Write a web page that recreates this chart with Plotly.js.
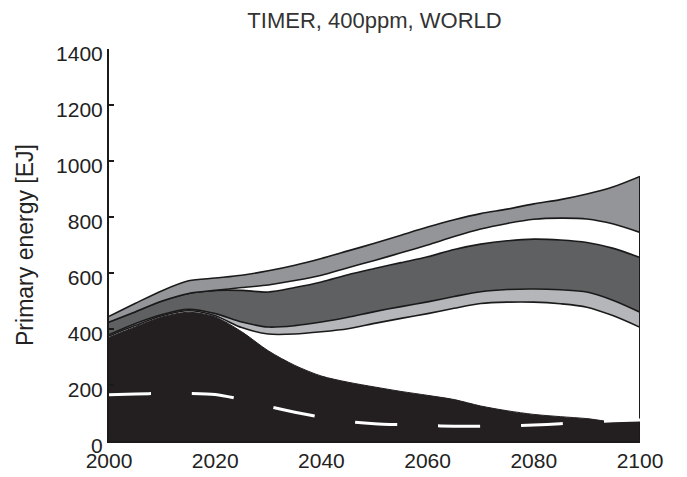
<!DOCTYPE html>
<html>
<head>
<meta charset="utf-8">
<script src="https://cdn.plot.ly/plotly-3.0.1.min.js"></script>
<style>html,body{margin:0;padding:0;background:#fff;}#chart{width:687px;height:477px;}</style>
</head>
<body>
<div id="chart"></div>
<script>
const years = [2000,2005,2010,2015,2020,2025,2030,2035,2040,2045,2050,2055,2060,2065,2070,2075,2080,2085,2090,2095,2100];
// Black area (top)
const blackTop = [370,408,443,460,443,390,322,270,232,210,193,177,163,148,125,108,95,87,80,68,72];
// White dashed line
const dashed = [165,168,170,170,166,148,124,103,85,70,62,58,55,53,53,54,57,62,68,72,75];
// Light band bottom
const lightLow = [375,413,447,465,447,405,382,382,390,401,420,438,455,474,491,496,496,490,478,447,406];
// Dark band bottom (= light band top)
const darkLow = [380,420,452,470,455,425,407,412,425,442,462,480,497,516,533,541,543,540,532,502,460];
// Dark band top
const darkHigh = [425,462,500,527,538,538,532,548,568,594,616,637,658,684,703,715,721,718,709,688,655];
// Upper band bottom
const upperLow = [425,462,500,527,538,548,557,573,592,619,645,672,700,730,757,777,792,796,793,775,745];
// Upper band top
const upperHigh = [445,492,537,572,582,592,608,628,652,679,706,735,764,790,812,828,847,862,882,908,945];

const yTicks = [0,200,400,600,800,1000,1200,1400];
const xTicks = [2000,2020,2040,2060,2080,2100];

const edge = {color:'#1a1a1a', width:1.6, shape:'spline', smoothing:0.8};
const traces = [
  {x:years, y:blackTop, mode:'lines', fill:'tozeroy', fillcolor:'#231f20', line:{color:'#231f20', width:1, shape:'spline', smoothing:0.8}},
  {x:years, y:lightLow, mode:'lines', line:edge},
  {x:years, y:darkLow, mode:'lines', fill:'tonexty', fillcolor:'#b5b6b9', line:edge},
  {x:years, y:darkHigh, mode:'lines', fill:'tonexty', fillcolor:'#5f6062', line:edge},
  {x:years, y:upperLow, mode:'lines', line:edge},
  {x:years, y:upperHigh, mode:'lines', fill:'tonexty', fillcolor:'#939598', line:edge},
  {x:[years[years.length-1], years[years.length-1]], y:[0, upperHigh[upperHigh.length-1]], mode:'lines', line:{color:'#1a1a1a', width:2}},
  {x:years, y:dashed, mode:'lines', line:{color:'#ffffff', width:3, dash:'42px,41px', shape:'spline', smoothing:0.8}}
];

const layout = {
  width:687, height:477,
  margin:{l:109, r:47, t:49, b:36},
  paper_bgcolor:'#ffffff', plot_bgcolor:'#ffffff',
  showlegend:false,
  font:{family:'Liberation Sans, Arial, sans-serif', color:'#222'},
  title:{text:'TIMER, 400ppm, WORLD', font:{size:22, color:'#333'}, x:0.5, xref:'paper', xanchor:'center', y:0.958, yref:'container', yanchor:'middle'},
  xaxis:{range:[2000,2100], tickvals:xTicks, ticktext:xTicks.map(String), showgrid:false, zeroline:false, showline:true, linecolor:'#1a1a1a', linewidth:1.5, ticks:'', ticklabelstandoff:0, tickfont:{size:21, color:'#222'}, fixedrange:true},
  yaxis:{range:[0,1400], tickvals:yTicks, ticktext:yTicks.map(String), showgrid:false, zeroline:false, showline:true, linecolor:'#1a1a1a', linewidth:2, ticks:'inside', ticklen:5, tickwidth:1.5, tickcolor:'#1a1a1a', ticklabelshift:5, tickfont:{size:21, color:'#222'}, title:{text:'Primary energy [EJ]', font:{size:23, color:'#222'}, standoff:16}, fixedrange:true}
};

Plotly.newPlot('chart', traces, layout, {displayModeBar:false, staticPlot:true});
</script>
</body>
</html>
